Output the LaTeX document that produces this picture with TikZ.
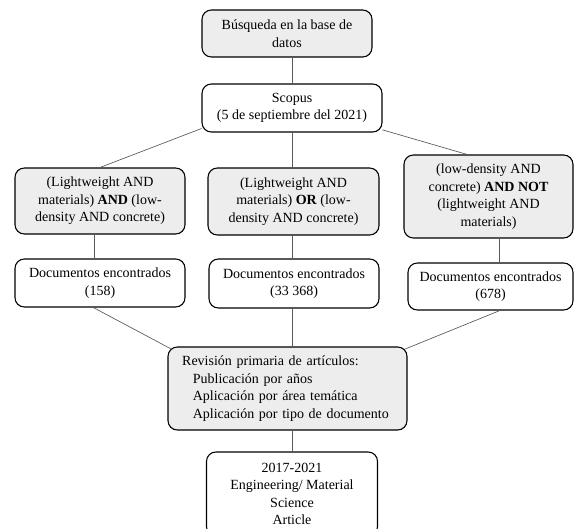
\documentclass[tikz,border=0pt]{standalone}
\usepackage{fontspec}
\setmainfont{Liberation Serif}
\begin{document}
\begin{tikzpicture}[x=0.75pt, y=-0.75pt, font=\fontsize{10.5}{13.2}\selectfont, line join=round, line cap=round,
  wh/.style 2 args={minimum width=#1*0.75pt, minimum height=#2*0.75pt},
  caja/.style={draw=black, line width=0.8pt, rounded corners=7pt, align=center, inner sep=1pt},
  gris/.style={caja, fill=black!7},
  enlace/.style={draw=black!65, line width=0.5pt}]
\useasboundingbox (0,0) rectangle (574,528);
\node[gris, wh={170}{47}] (busq) at (287,33.5) {Búsqueda en la base de\\datos};
\node[caja, wh={180}{48}] (scopus) at (292,108) {Scopus\\(5 de septiembre del 2021)};
\node[gris, wh={170}{66}] (qand) at (100,201) {(Lightweight AND\\materials) \textbf{AND} (low-\\density AND concrete)};
\node[gris, wh={171}{67}] (qor) at (293.5,201.5) {(Lightweight AND\\materials) \textbf{OR} (low-\\density AND concrete)};
\node[gris, wh={169}{83}] (qnot) at (488.5,196.5) {(low-density AND\\concrete) \textbf{AND NOT}\\(lightweight AND\\materials)};
\node[caja, wh={170}{48}] (docA) at (100,283) {Documentos encontrados\\(158)};
\node[caja, wh={170}{49}] (docB) at (294,283.5) {Documentos encontrados\\(33 368)};
\node[caja, wh={165}{47}] (docC) at (490.5,286.5) {Documentos encontrados\\(678)};
\node[gris, wh={239}{83}, align=left, inner xsep=10.5pt, text width=158pt] (rev) at (287.5,388.5)
  {Revisión primaria de artículos:\\
   \hspace*{8pt}Publicación por años\\
   \hspace*{8pt}Aplicación por área temática\\
   \hspace*{8pt}Aplicación por tipo de documento};
\node[caja, wh={171}{84}] (fin) at (292,494) {2017-2021\\Engineering/ Material\\Science\\Article};
% conexiones
\draw[enlace] (scopus.north) -- (scopus.north |- busq.south);
\draw[enlace] ([yshift=3pt]scopus.south west) -- (qand.north);
\draw[enlace] (scopus.south) -- (scopus.south |- qor.north);
\draw[enlace] ([yshift=2pt]scopus.south east) -- ([xshift=-16pt]qnot.north);
\draw[enlace] ([xshift=-4.5pt]qand.south) -- ([xshift=-4.5pt]docA.north);
\draw[enlace] (scopus.south |- qor.south) -- (scopus.south |- docB.north);
\draw[enlace] ([xshift=8pt]qnot.south) -- ([xshift=8pt]qnot.south |- docC.north);
\draw[enlace] ([xshift=-5pt]docA.south) -- ([shift={(3pt,-2pt)}]rev.north west);
\draw[enlace] (fin.north |- docB.south) -- (fin.north |- rev.north);
\draw[enlace] ([xshift=7pt]docC.south) -- ([shift={(-2pt,-2pt)}]rev.north east);
\draw[enlace] (fin.north) -- (fin.north |- rev.south);
\end{tikzpicture}
\end{document}
